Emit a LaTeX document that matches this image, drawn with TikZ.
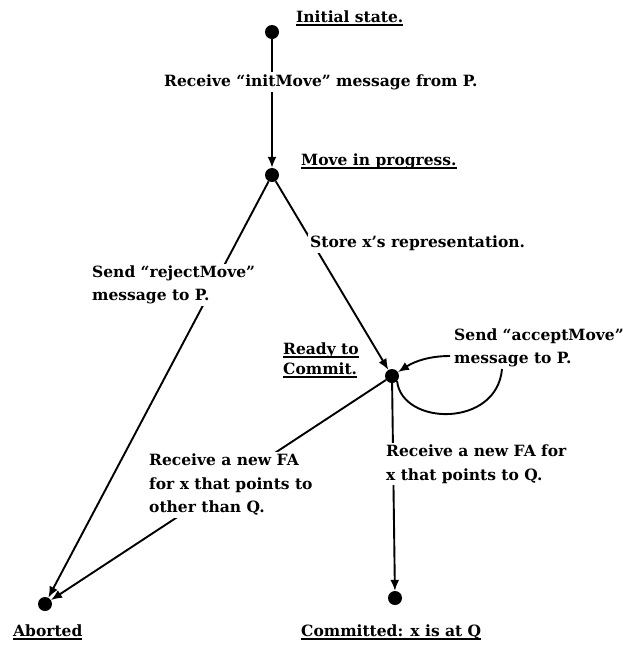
\documentclass[tikz,border=0pt]{standalone}
\usepackage{fontspec}
\setmainfont{DejaVu Serif}
\usetikzlibrary{arrows.meta}
% thick underline for the state names
\newcommand{\ulx}[1]{\leavevmode\setbox0=\hbox{#1}\rlap{\rule[-3.5pt]{\wd0}{1.4pt}}\box0}
\begin{document}
\begin{tikzpicture}[x=1pt,y=-1pt,
  state/.style={circle,fill=black,inner sep=0pt,minimum size=14pt},
  conn/.style={line width=1.9pt,-{Latex[length=11pt,width=9pt]}},
  plain/.style={line width=1.9pt},
  lbl/.style={font=\bfseries\fontsize{15.5}{23.5}\selectfont,fill=white,inner sep=2pt,align=left,anchor=west},
  statelabel/.style={font=\bfseries\fontsize{15.5}{20}\selectfont,inner sep=1pt,align=left,anchor=west}]
\useasboundingbox (0,0) rectangle (623,646);

% states
\node[state] (init) at (272,32) {};
\node[state] (move) at (272,175) {};
\node[state] (ready) at (392,376) {};
\node[state] (abort) at (45,604) {};
\node[state] (commit) at (395,598) {};

% transitions
\draw[conn] (init) -- (move);
\draw[conn] (move) -- (abort);
\draw[conn] (move) -- (ready);
\draw[conn] (ready) -- (abort);
\draw[conn] (ready) -- (commit);

% self loop on the ready state
\coordinate (loopend) at (502,369);
\coordinate (loopstart) at (450,356);
\draw[plain] (ready.south east) .. controls (402,426) and (497,428) .. (loopend);
\draw[conn] (loopstart) .. controls (430,356) and (415,361) .. (ready);

% state names
\node[statelabel] (n1) at (295,18) {\ulx{Initial state.}};
\node[statelabel] (n2) at (300,161) {\ulx{Move in progress.}};
\node[statelabel] (n3) at (282,360) {\ulx{Ready to}\\\ulx{Commit.}};
\node[statelabel] (n4) at (12,632) {\ulx{Aborted}};
\node[statelabel] (n5) at (300,632) {\ulx{Committed: x is at Q}};

% transition labels
\node[lbl] (t1) at (162,82) {Receive ``initMove'' message from P.};
\node[lbl] (t2) at (90,285) {Send ``rejectMove''\\message to P.};
\node[lbl] (t3) at (308,243) {Store x's representation.};
\node[lbl,fill=none] (t4) at (452,348) {Send ``acceptMove''\\message to P.};
\node[lbl] (t5) at (147,485) {Receive a new FA\\for x that points to\\other than Q.};
\node[lbl] (t6) at (384,464) {Receive a new FA for\\x that points to Q.};
\end{tikzpicture}
\end{document}
